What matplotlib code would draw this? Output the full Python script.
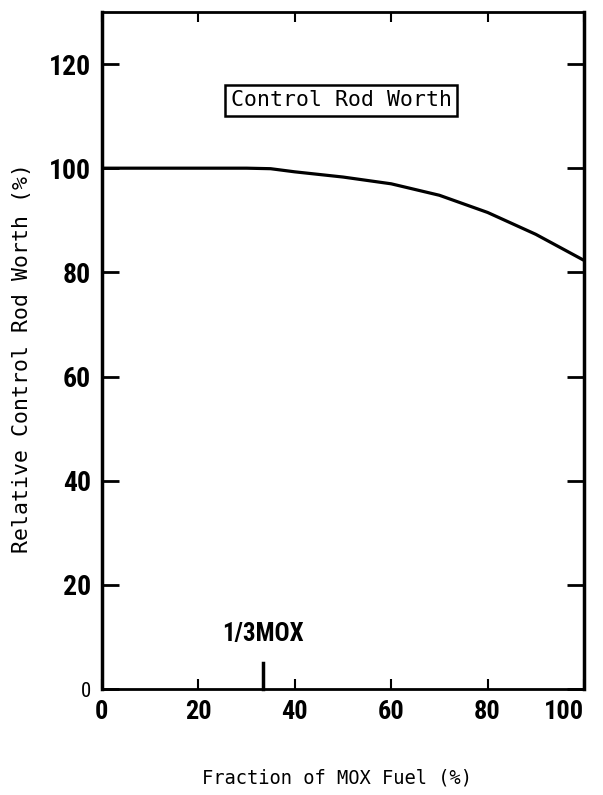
import matplotlib
matplotlib.use("Agg")
import matplotlib.pyplot as plt

# data
mox_fraction = [0, 10, 20, 30, 35, 40, 50, 60, 70, 80, 90, 100]
rod_worth = [100, 100, 100, 100, 99.9, 99.3, 98.3, 97.0, 94.8, 91.5, 87.3, 82.3]
x_ticks = [0, 20, 40, 60, 80, 100]
y_ticks = [0, 20, 40, 60, 80, 100, 120]
mox_third = 100 / 3

narrow = ['Roboto Condensed', 'Oswald', 'Liberation Sans Narrow', 'DejaVu Sans']
mono = 'DejaVu Sans Mono'

fig = plt.figure(figsize=(6.03, 7.95), dpi=100)
ax = fig.add_axes([0.169, 0.1333, 0.7995, 0.8517])

ax.plot(mox_fraction, rod_worth, color='black', lw=2.3)

ax.set_xlim(0, 100)
ax.set_ylim(0, 130)
ax.set_xticks(x_ticks)
ax.set_yticks(y_ticks)
ax.tick_params(direction='in', length=12, width=2, top=True, right=True,
               labelsize=20, pad=8)
ax.tick_params(axis='x', length=7, width=1.5, labelsize=19)
for lab in ax.get_xticklabels() + ax.get_yticklabels():
    lab.set_family(narrow)
    lab.set_fontweight('bold')
ax.get_yticklabels()[0].set_fontsize(15)
ax.get_yticklabels()[0].set_fontweight('normal')
# last x label sits close to the figure edge
ax.get_xticklabels()[-1].set_horizontalalignment('right')
ax.get_xticklabels()[-1].set_x(101.5)
for s in ax.spines.values():
    s.set_linewidth(2)
ax.spines['left'].set_linewidth(2.5)
ax.spines['right'].set_linewidth(2.5)

# 1/3 MOX marker
ax.plot([mox_third, mox_third], [0, 5], color='black', lw=2.5, clip_on=False)
ax.text(mox_third, 10.5, '1/3MOX', ha='center', va='center', fontsize=18,
        family=narrow, fontweight='bold')

ax.text(49.6, 113, 'Control Rod Worth', ha='center', va='center', fontsize=15.5,
        family=mono,
        bbox=dict(boxstyle='square,pad=0.25', fc='white', ec='black', lw=1.8))

fig.text(22 / 603, 1 - 358 / 795, 'Relative Control Rod Worth (%)', rotation=90,
         ha='center', va='center', family=mono, fontsize=15.5)
fig.text(337 / 603, 1 - 778 / 795, 'Fraction of MOX Fuel (%)', ha='center', va='center',
         family=mono, fontsize=13.5)

fig.savefig('out.png', dpi=100)
